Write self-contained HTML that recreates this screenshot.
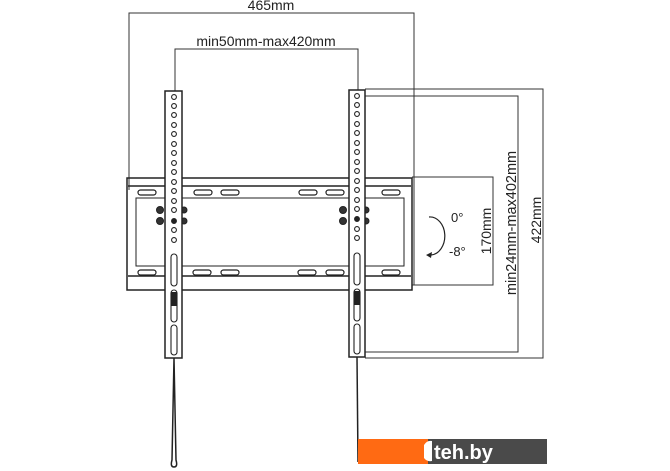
<!DOCTYPE html>
<html><head><style>body{margin:0;background:#fff}svg{display:block}text{font-family:"Liberation Sans",sans-serif;fill:#222}</style></head><body>
<svg width="670" height="471" viewBox="0 0 670 471" xmlns="http://www.w3.org/2000/svg">
<g stroke="#333" stroke-width="1" fill="none">
<path d="M129 190V13H414V285"/>
<path d="M175 92V49H358V92"/>
<path d="M365 89H543V358H365"/>
<path d="M365 96H518V352H365"/>
<path d="M412 177H493V285H412"/>
</g>
<text x="271" y="10" font-size="14" text-anchor="middle">465mm</text>
<text x="266" y="46" font-size="14" text-anchor="middle">min50mm-max420mm</text>
<text transform="translate(491,231) rotate(-90)" font-size="14" text-anchor="middle">170mm</text>
<text transform="translate(516,223) rotate(-90)" font-size="14.5" text-anchor="middle">min24mm-max402mm</text>
<text transform="translate(541,220) rotate(-90)" font-size="14" text-anchor="middle">422mm</text>
<text x="451" y="222" font-size="13">0°</text>
<text x="449" y="256" font-size="13">-8°</text>
<path d="M429 217 A14 18 0 0 1 431 255" stroke="#222" fill="none" stroke-width="1.2"/>
<path d="M426 255 L432 252 L431 258 Z" fill="#222"/>
<g stroke="#222" fill="none" stroke-width="1.5">
<rect x="127" y="178" width="285" height="112"/>
<path d="M128 186H411M128 276H411"/>
<rect x="136" y="198" width="268" height="68" stroke-width="1"/>
</g>
<g stroke="#222" fill="#fff" stroke-width="1.2">
<rect x="138" y="190" width="18" height="5" rx="2.5"/><rect x="194" y="190" width="18" height="5" rx="2.5"/><rect x="221" y="190" width="18" height="5" rx="2.5"/>
<rect x="299" y="190" width="18" height="5" rx="2.5"/><rect x="326" y="190" width="18" height="5" rx="2.5"/><rect x="382" y="190" width="18" height="5" rx="2.5"/>
<rect x="138" y="270" width="18" height="5" rx="2.5"/><rect x="193" y="270" width="18" height="5" rx="2.5"/><rect x="221" y="270" width="18" height="5" rx="2.5"/>
<rect x="298" y="270" width="18" height="5" rx="2.5"/><rect x="326" y="270" width="18" height="5" rx="2.5"/><rect x="382" y="270" width="18" height="5" rx="2.5"/>
</g>
<g fill="#333" stroke="#222">
<circle cx="160" cy="210" r="3.5"/><circle cx="160" cy="221" r="3.5"/><circle cx="184" cy="210" r="3"/><circle cx="184" cy="221" r="3"/>
<circle cx="343" cy="210" r="3.5"/><circle cx="343" cy="221" r="3.5"/><circle cx="366" cy="210" r="3"/><circle cx="366" cy="221" r="3"/>
</g>
<g stroke="#222" stroke-width="1.5" fill="#fff">
<rect x="165" y="91" width="17" height="267"/>
<rect x="349" y="90" width="16" height="267"/>
</g>
<g stroke="#222" stroke-width="1.1" fill="none">
<circle cx="174" cy="97" r="2.4"/><circle cx="174" cy="106" r="2.4"/><circle cx="174" cy="115" r="2.4"/><circle cx="174" cy="125" r="2.4"/><circle cx="174" cy="134" r="2.4"/><circle cx="174" cy="144" r="2.4"/><circle cx="174" cy="153" r="2.4"/><circle cx="174" cy="163" r="2.4"/><circle cx="174" cy="172" r="2.4"/><circle cx="174" cy="182" r="2.4"/><circle cx="174" cy="191" r="2.4"/><circle cx="174" cy="201" r="2.4"/><circle cx="174" cy="210" r="2.4"/><circle cx="174" cy="221" r="2.4" fill="#222"/><circle cx="174" cy="230" r="2.4"/><circle cx="174" cy="240" r="2.4"/>
<circle cx="357" cy="96" r="2.4"/><circle cx="357" cy="105" r="2.4"/><circle cx="357" cy="114" r="2.4"/><circle cx="357" cy="124" r="2.4"/><circle cx="357" cy="133" r="2.4"/><circle cx="357" cy="143" r="2.4"/><circle cx="357" cy="152" r="2.4"/><circle cx="357" cy="162" r="2.4"/><circle cx="357" cy="171" r="2.4"/><circle cx="357" cy="181" r="2.4"/><circle cx="357" cy="190" r="2.4"/><circle cx="357" cy="200" r="2.4"/><circle cx="357" cy="209" r="2.4"/><circle cx="357" cy="219" r="2.4" fill="#222"/><circle cx="357" cy="229" r="2.4"/><circle cx="357" cy="238" r="2.4"/>
<rect x="171" y="254" width="6" height="32" rx="3"/><rect x="171" y="290" width="6" height="32" rx="3"/><rect x="171" y="325" width="6" height="30" rx="3"/>
<rect x="354" y="253" width="6" height="32" rx="3"/><rect x="354" y="289" width="6" height="32" rx="3"/><rect x="354" y="324" width="6" height="30" rx="3"/>
</g>
<path d="M171 292h6v14h-6z M354 291h6v14h-6z" fill="#222"/>
<g stroke="#222" stroke-width="1.5" fill="none">
<path d="M174 358 L176 460 Q178 467 174 467 Q170 467 172 460 Z"/>
<path d="M357 357 L358 462"/>
</g>
<rect x="358" y="439" width="70" height="25" fill="#ff6a13"/>
<rect x="428" y="439" width="119" height="25" fill="#4a4a4a"/>
<path d="M424 445 q3 -5 8 -4 v20 q-5 1 -8 -3z" fill="#fff"/>
<text x="434" y="459" font-size="20" font-weight="bold" style="fill:#fff">teh.by</text>
</svg>
</body></html>
